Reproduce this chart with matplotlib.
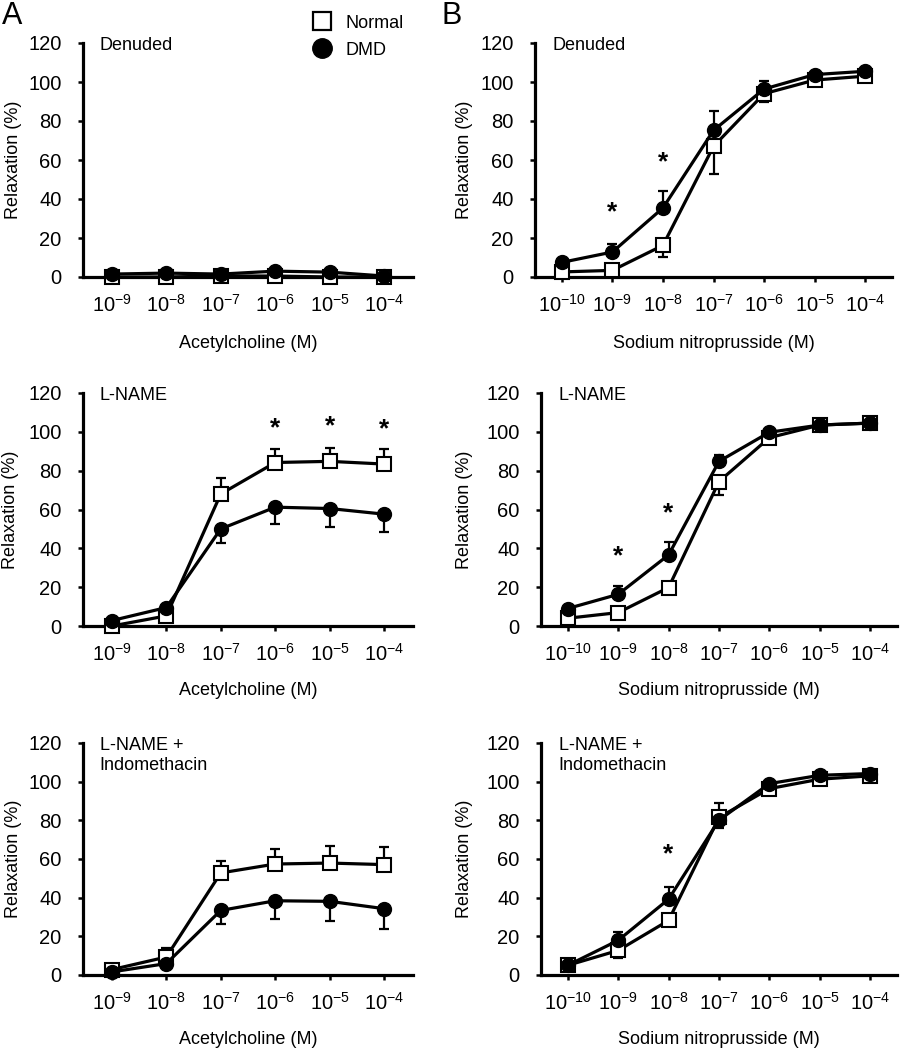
import matplotlib
matplotlib.use("Agg")
import matplotlib.pyplot as plt
from matplotlib.lines import Line2D
import numpy as np

plt.rcParams['font.family'] = ['Liberation Sans', 'DejaVu Sans']
plt.rcParams['mathtext.fontset'] = 'custom'
plt.rcParams['mathtext.rm'] = 'Liberation Sans'
plt.rcParams['mathtext.it'] = 'Liberation Sans'
plt.rcParams['mathtext.default'] = 'regular'

# ---------------- data ----------------
ach_exponents = [-9, -8, -7, -6, -5, -4]
snp_exponents = [-10, -9, -8, -7, -6, -5, -4]

# signed SEM: positive -> bar drawn upward, negative -> bar drawn downward
ach_den_normal = [0.0, 0.0, 0.5, 0.5, 0.0, 0.0]
ach_den_normal_sem = [0, 0, 0, 0, 0, 0]
ach_den_dmd = [1.5, 2.0, 1.5, 3.0, 2.5, 0.5]
ach_den_dmd_sem = [0, 0, 0, 0, 0, 0]

snp_den_normal = [2.6, 3.4, 16.2, 67.0, 94.0, 101.0, 103.0]
snp_den_normal_sem = [-2.0, -3.0, -6.0, -14.0, -4.0, -1.5, -1.0]
snp_den_dmd = [7.5, 12.8, 35.4, 75.2, 96.4, 103.8, 105.5]
snp_den_dmd_sem = [1.0, 4.0, 8.5, 10.0, 4.0, 1.0, 1.0]

ach_lname_normal = [0.0, 5.2, 68.0, 84.2, 84.8, 83.4]
ach_lname_normal_sem = [0, 0, 8.0, 7.0, 7.0, 8.0]
ach_lname_dmd = [2.8, 9.5, 50.0, 61.2, 60.5, 57.6]
ach_lname_dmd_sem = [0, 0, -7.0, -8.5, -9.3, -9.3]

snp_lname_normal = [4.0, 6.9, 19.8, 74.4, 97.0, 103.5, 104.5]
snp_lname_normal_sem = [-3.5, -1.5, -3.5, -7.0, -1.5, -1.0, -1.0]
snp_lname_dmd = [9.0, 16.3, 36.6, 84.8, 99.8, 103.5, 104.5]
snp_lname_dmd_sem = [1.0, 4.3, 6.5, 3.4, 1.0, 1.0, 1.0]

ach_indo_normal = [2.8, 9.3, 52.8, 57.4, 57.9, 57.1]
ach_indo_normal_sem = [0, 4.7, 6.4, 8.0, 8.6, 9.0]
ach_indo_dmd = [1.6, 5.9, 33.4, 38.4, 38.1, 34.3]
ach_indo_dmd_sem = [0, 0, -7.0, -9.5, -10.3, -10.5]

snp_indo_normal = [5.0, 12.7, 28.2, 81.5, 96.4, 101.3, 103.0]
snp_indo_normal_sem = [-1.0, -4.0, -1.0, 7.5, -3.5, -1.0, -1.0]
snp_indo_dmd = [5.0, 17.9, 39.2, 80.1, 99.0, 103.3, 104.2]
snp_indo_dmd_sem = [1.0, 4.3, 6.2, -4.0, 1.0, 1.0, 1.0]

# significance markers (index of concentration, height of star)
snp_den_star_idx = [1, 2]
snp_den_star_y = [33, 59]
ach_lname_star_idx = [3, 4, 5]
ach_lname_star_y = [102, 103, 101.5]
snp_lname_star_idx = [1, 2]
snp_lname_star_y = [36, 58]
snp_indo_star_idx = [2]
snp_indo_star_y = [62.5]

ach_xlabel = "Acetylcholine (M)"
snp_xlabel = "Sodium nitroprusside (M)"
ylabel = "Relaxation (%)"
title_denuded = ["Denuded"]
title_lname = ["L-NAME"]
title_indo = ["L-NAME +", "Indomethacin"]

# ---------------- figure ----------------
W, H = 900, 1050
fig = plt.figure(figsize=(9, 10.5), dpi=100)


def px_axes(x0, x1, ytop, ybot):
    return fig.add_axes([x0 / W, 1 - ybot / H, (x1 - x0) / W, (ybot - ytop) / H])


def draw_errs(ax, x, y, sem):
    y = np.asarray(y, float)
    sem = np.asarray(sem, float)
    lo = np.where(sem < 0, -sem, 0)
    hi = np.where(sem > 0, sem, 0)
    ax.errorbar(x, y, yerr=[lo, hi], fmt='none', ecolor='black',
                elinewidth=1.6, capsize=3.5, capthick=1.6, zorder=2,
                clip_on=False)


def panel(ax, exps, normal, normal_sem, dmd, dmd_sem, title_lines, xlabel,
          star_idx=(), star_y=(), ylab_x=-0.18, xlab_y=-0.24):
    x = np.arange(len(exps))
    draw_errs(ax, x, normal, normal_sem)
    draw_errs(ax, x, dmd, dmd_sem)
    ax.plot(x, normal, '-', color='black', lw=2.3, marker='s', ms=9.5,
            mfc='white', mec='black', mew=1.5, zorder=3, clip_on=False)
    ax.plot(x, dmd, '-', color='black', lw=2.3, marker='o', ms=10,
            mfc='black', mec='black', zorder=4, clip_on=False)
    for i, yy in zip(star_idx, star_y):
        ax.text(x[i], yy, '*', ha='center', va='center', fontsize=19,
                fontweight='bold')
    ax.set_xlim(-0.53, len(exps) - 0.47)
    ax.set_ylim(0, 120)
    ax.set_yticks(range(0, 121, 20))
    ax.set_xticks(x)
    ax.set_xticklabels([r'$10^{%d}$' % e for e in exps])
    for s in ('top', 'right'):
        ax.spines[s].set_visible(False)
    for s in ('left', 'bottom'):
        ax.spines[s].set_linewidth(2.3)
    ax.tick_params(axis='both', direction='out', length=3.5, width=1.8,
                   labelsize=14.5)
    ax.tick_params(axis='x', pad=9)
    ax.tick_params(axis='y', pad=12)
    ax.set_ylabel(ylabel, fontsize=13)
    ax.set_xlabel(xlabel, fontsize=13)
    ax.yaxis.set_label_coords(ylab_x, 0.5)
    ax.xaxis.set_label_coords(0.5, xlab_y)
    for k, line in enumerate(title_lines):
        ax.annotate(line, xy=(0.05, 1.0), xycoords='axes fraction',
                    xytext=(0, -5.2 - 14.4 * k), textcoords='offset points',
                    ha='left', va='baseline', fontsize=13)


axA1 = px_axes(83, 413, 43, 277)
axB1 = px_axes(535, 892, 43, 277)
axA2 = px_axes(83, 413, 393, 626)
axB2 = px_axes(541, 897, 393, 626)
axA3 = px_axes(83, 413, 743, 975)
axB3 = px_axes(541, 897, 743, 975)

panel(axA1, ach_exponents, ach_den_normal, ach_den_normal_sem,
      ach_den_dmd, ach_den_dmd_sem, title_denuded, ach_xlabel,
      ylab_x=-0.185, xlab_y=-0.25)
panel(axB1, snp_exponents, snp_den_normal, snp_den_normal_sem,
      snp_den_dmd, snp_den_dmd_sem, title_denuded, snp_xlabel,
      snp_den_star_idx, snp_den_star_y, ylab_x=-0.174, xlab_y=-0.25)
panel(axA2, ach_exponents, ach_lname_normal, ach_lname_normal_sem,
      ach_lname_dmd, ach_lname_dmd_sem, title_lname, ach_xlabel,
      ach_lname_star_idx, ach_lname_star_y, ylab_x=-0.195)
panel(axB2, snp_exponents, snp_lname_normal, snp_lname_normal_sem,
      snp_lname_dmd, snp_lname_dmd_sem, title_lname, snp_xlabel,
      snp_lname_star_idx, snp_lname_star_y, ylab_x=-0.191)
panel(axA3, ach_exponents, ach_indo_normal, ach_indo_normal_sem,
      ach_indo_dmd, ach_indo_dmd_sem, title_indo, ach_xlabel,
      ylab_x=-0.185)
panel(axB3, snp_exponents, snp_indo_normal, snp_indo_normal_sem,
      snp_indo_dmd, snp_indo_dmd_sem, title_indo, snp_xlabel,
      snp_indo_star_idx, snp_indo_star_y, ylab_x=-0.191)

# panel letters
fig.text(2 / W, 1 - 1 / H, "A", ha='left', va='top', fontsize=22)
fig.text(441 / W, 1 - 1 / H, "B", ha='left', va='top', fontsize=22)

# legend
handles = [
    Line2D([], [], ls='none', marker='s', ms=13, mfc='white', mec='black',
           mew=1.6),
    Line2D([], [], ls='none', marker='o', ms=14, mfc='black', mec='black'),
]
fig.legend(handles, ["Normal", "DMD"], loc='upper left',
           bbox_to_anchor=(298 / W, 1 - 2 / H), frameon=False, fontsize=13,
           handletextpad=0.65, labelspacing=0.55, handlelength=1.3,
           borderpad=0.2)

fig.savefig("out.png", dpi=100)
